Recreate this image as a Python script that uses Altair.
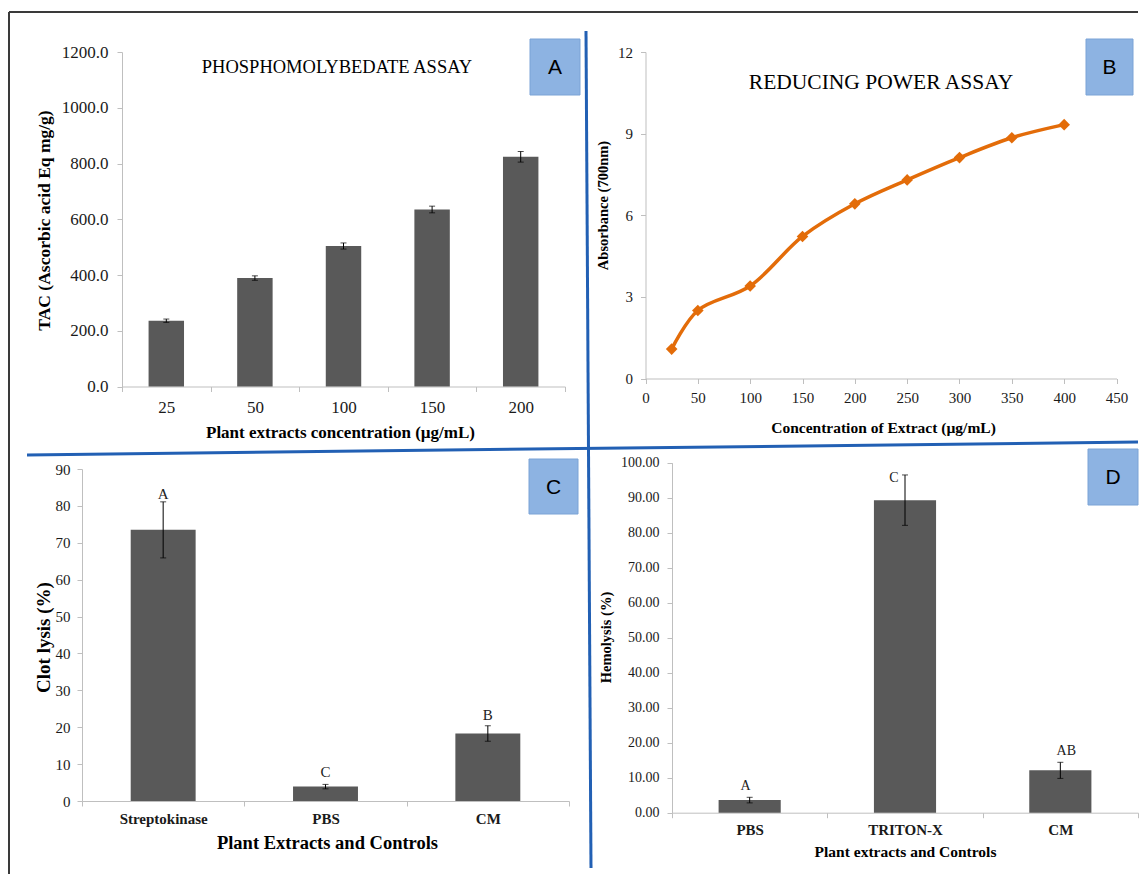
import altair as alt
import pandas as pd

# ---------------- data ----------------
a_conc = ["25", "50", "100", "150", "200"]
a_tac = [236, 389, 504, 635, 824]
a_err = [6, 8, 11, 12, 19]
a_yticks = [0, 200, 400, 600, 800, 1000, 1200]

b_conc = [25, 50, 100, 150, 200, 250, 300, 350, 400]
b_abs = [1.08, 2.50, 3.40, 5.22, 6.42, 7.30, 8.12, 8.85, 9.33]
b_xticks = [0, 50, 100, 150, 200, 250, 300, 350, 400, 450]
b_yticks = [0, 3, 6, 9, 12]

c_groups = ["Streptokinase", "PBS", "CM"]
c_lysis = [73.5, 3.9, 18.3]
c_err = [7.6, 0.6, 2.1]
c_letters = ["A", "C", "B"]
c_yticks = [0, 10, 20, 30, 40, 50, 60, 70, 80, 90]

d_groups = ["PBS", "TRITON-X", "CM"]
d_hemo = [3.6, 89.3, 12.1]
d_err = [0.8, 7.2, 2.3]
d_letters = ["A", "C", "AB"]
d_yticks = [0, 10, 20, 30, 40, 50, 60, 70, 80, 90, 100]

# ---------------- styles ----------------
SERIF = "Liberation Serif"
SANS = "Liberation Sans"
AXC = "#BFBFBF"
BAR = "#595959"
ORANGE = "#E36C09"
BOXFILL = "#8DB3E2"
BOXSTROKE = "#7BA3D6"
BLUE = "#2260B4"
W, H = 550, 427

one = pd.DataFrame({"k": [0]})


def rule_px(x, y, x2, y2, color, width):
    return alt.Chart(one).mark_rule(color=color, strokeWidth=width).encode(
        x=alt.value(x), y=alt.value(y), x2=alt.value(x2), y2=alt.value(y2))


def text_px(txt, x, y, size, font=SERIF, weight="normal"):
    return alt.Chart(one).mark_text(font=font, fontSize=size, fontWeight=weight, color="black",
                                    align="center", baseline="middle").encode(
        x=alt.value(x), y=alt.value(y), text=alt.value(txt))


def letter_box(letter, x, y, x2, y2):
    rect = alt.Chart(one).mark_rect(fill=BOXFILL, stroke=BOXSTROKE, strokeWidth=1).encode(
        x=alt.value(x), x2=alt.value(x2), y=alt.value(y), y2=alt.value(y2))
    return [rect, text_px(letter, (x + x2) / 2, (y + y2) / 2 + 1, 21, SANS)]


def x_axis(title, off, tx, ty, lsize, lweight, tsize, lpad, band=True, values=None):
    kw = dict(title=title, orient="bottom", offset=off, grid=False, domainColor=AXC, tickColor=AXC,
              tickSize=5, labelFont=SERIF, labelFontSize=lsize, labelFontWeight=lweight,
              labelColor="#1a1a1a", labelPadding=lpad, labelAngle=0, labelFlush=False,
              labelOverlap=False, titleFont=SERIF, titleFontSize=tsize, titleFontWeight="bold",
              titleColor="black", titleX=tx, titleY=ty, titleAlign="center", titleBaseline="middle")
    if band:
        kw["tickBand"] = "extent"
    if values is not None:
        kw["values"] = values
    return alt.Axis(**kw)


def y_axis(title, off, tx, ty, values, fmt, lsize, tsize, lpad):
    return alt.Axis(title=title, orient="left", offset=off, grid=False, values=values, format=fmt,
                    domainColor=AXC, tickColor=AXC, tickSize=5, labelFont=SERIF, labelFontSize=lsize,
                    labelColor="#1a1a1a", labelPadding=lpad, labelOverlap=False,
                    titleFont=SERIF, titleFontSize=tsize, titleFontWeight="bold", titleColor="black",
                    titleAngle=-90, titleX=tx, titleY=ty, titleAlign="center", titleBaseline="middle")


def bar_layers(cats, vals, errs, xs, xa, ys, ya, letters=None, lsize=14, dxs=None, dys=None):
    df = pd.DataFrame({"cat": cats, "val": vals,
                       "lo": [v - e for v, e in zip(vals, errs)],
                       "hi": [v + e for v, e in zip(vals, errs)]})
    if letters:
        df["lab"] = letters
    X = alt.X("cat:N", sort=cats, scale=xs, axis=xa)
    Y = alt.Y("val:Q", scale=ys, axis=ya)
    Ylo = alt.Y("lo:Q", scale=ys, axis=ya)
    Yhi = alt.Y("hi:Q", scale=ys, axis=ya)
    base = alt.Chart(df)
    layers = [
        base.mark_bar(color=BAR, width=alt.RelativeBandSize(0.4)).encode(x=X, y=Y),
        base.mark_rule(color="black", strokeWidth=1).encode(x=X, y=Ylo, y2="hi:Q"),
        base.mark_tick(color="black", size=6, thickness=1).encode(x=X, y=Ylo),
        base.mark_tick(color="black", size=6, thickness=1).encode(x=X, y=Yhi),
    ]
    if letters:
        for i in range(len(letters)):
            layers.append(
                alt.Chart(df.iloc[[i]]).mark_text(font=SERIF, fontSize=lsize, color="#222",
                                                  baseline="bottom", dx=dxs[i], dy=dys[i]).encode(
                    x=X, y=Yhi, text="lab:N"))
    return layers


# ---------------- Panel A ----------------
a_layers = bar_layers(
    a_conc, a_tac, a_err,
    alt.Scale(range=[113, 556], paddingInner=0, paddingOuter=0),
    x_axis("Plant extracts concentration (µg/mL)", -52.5, 331, 45.5, 17, "normal", 17, 8),
    alt.Scale(domain=[0, 1200], range=[374.5, 40], nice=False),
    y_axis("TAC (Ascorbic acid Eq mg/g)", -113, -78, 208, a_yticks, ".1f", 17, 17.5, 9))
a_layers += [text_px("PHOSPHOMOLYBEDATE ASSAY", 328, 55, 18.5)]
a_layers += letter_box("A", 521, 27, 571, 83)
# figure frame and dividers (drawn in panel A's coordinates)
a_layers += [
    rule_px(0, 0, 1129, 0, "#3a3a3a", 2),
    rule_px(0, 0, 0, 862, "#3a3a3a", 2),
    rule_px(577, 19, 582, 856, BLUE, 3),
    rule_px(18, 443, 1129, 430, BLUE, 3),
]
panelA = alt.layer(*a_layers).properties(width=W, height=H)

# ---------------- Panel B ----------------
b_df = pd.DataFrame({"conc": b_conc, "abs": b_abs})
bX = alt.X("conc:Q", scale=alt.Scale(domain=[0, 450], range=[56.5, 527.5], nice=False, zero=True),
           axis=x_axis("Concentration of Extract (µg/mL)", -60.5, 294, 48.5, 15, "normal", 15.5, 7,
                       band=False, values=b_xticks))
bY = alt.Y("abs:Q", scale=alt.Scale(domain=[0, 12], range=[366.5, 40], nice=False),
           axis=y_axis("Absorbance (700nm)", -56.5, -42, 193, b_yticks, "d", 15, 14.5, 8))
b_layers = [
    alt.Chart(b_df).mark_line(color=ORANGE, strokeWidth=3.5, interpolate="catmull-rom").encode(x=bX, y=bY),
    alt.Chart(b_df).mark_point(shape="diamond", filled=True, size=135, color=ORANGE, opacity=1).encode(x=bX, y=bY),
    text_px("REDUCING POWER ASSAY", 292, 71, 21.5),
]
b_layers += letter_box("B", 497, 27, 544, 83)
panelB = alt.layer(*b_layers).properties(width=W, height=H)

# ---------------- Panel C ----------------
c_layers = bar_layers(
    c_groups, c_lysis, c_err,
    alt.Scale(range=[73, 560], paddingInner=0, paddingOuter=0),
    x_axis("Plant Extracts and Controls", -73, 318, 41, 15, "bold", 18.5, 5),
    alt.Scale(domain=[0, 90], range=[354, 22], nice=False),
    y_axis("Clot lysis (%)", -73, -39, 190, c_yticks, "d", 15, 19, 7),
    c_letters, 15, [0, 0, 0], [0, -4, -3])
c_layers += letter_box("C", 520, 12, 569, 67)
panelC = alt.layer(*c_layers).properties(width=W, height=H)

# ---------------- Panel D ----------------
d_layers = bar_layers(
    d_groups, d_hemo, d_err,
    alt.Scale(range=[83, 549], paddingInner=0, paddingOuter=0),
    x_axis("Plant extracts and Controls", -61.3, 316, 39, 15, "bold", 15.5, 5),
    alt.Scale(domain=[0, 100], range=[365.7, 15.7], nice=False),
    y_axis("Hemolysis (%)", -83, -66, 190, d_yticks, ".2f", 14, 14.5, 8),
    d_letters, 14, [-4, -11, 6], [-4, 10, -4])
d_layers += letter_box("D", 499, 2, 549, 58)
panelD = alt.layer(*d_layers).properties(width=W, height=H)

chart = alt.concat(panelA, panelB, panelC, panelD, columns=2,
                   spacing={"row": 8, "column": 30}, bounds="flush").configure_view(
    strokeWidth=0).properties(padding={"left": 0, "top": 3, "right": 0, "bottom": 0},
                              background="white")

chart.save("out.html", embed_options={"renderer": "svg", "actions": False})
